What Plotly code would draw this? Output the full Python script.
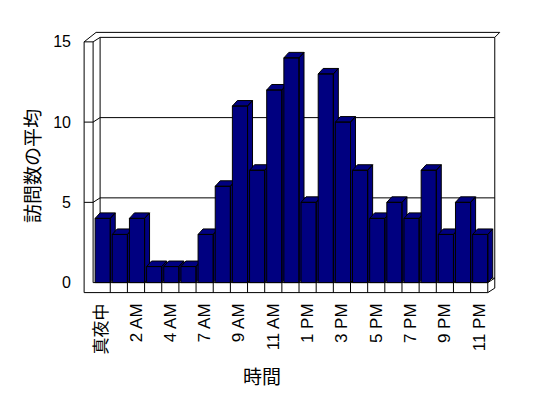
import plotly.graph_objects as go

# ---- data ----
hours = ["真夜中", "1 AM", "2 AM", "3 AM", "4 AM", "5 AM", "7 AM", "8 AM", "9 AM", "10 AM",
         "11 AM", "12 PM", "1 PM", "2 PM", "3 PM", "4 PM", "5 PM", "6 PM", "7 PM", "8 PM",
         "9 PM", "10 PM", "11 PM"]
avg_visits = [4, 3, 4, 1, 1, 1, 3, 6, 11, 7, 12, 14, 5, 13, 10, 7, 4, 5, 4, 7, 3, 5, 3]
y_ticks = [0, 5, 10, 15]
y_title = "訪問数の平均"
x_title = "時間"

# ---- 3D look geometry (data units) ----
N = len(hours)
YMAX = 15
DX, DY = 0.408, 0.28        # wall depth offset
BX, BY = 0.29, 0.31         # back wall thickness
WT = 0.524                  # left wall thickness
FT = 0.623                  # floor thickness
GAP = 0.117                 # gap before each bar
BDX, BDY = 0.29, 0.343      # bar depth

NAVY = "#000080"
FONT = "Liberation Sans, Arial, Noto Sans CJK JP, sans-serif"

fx, fy = [], []
def seg(pts):
    for p in pts:
        fx.append(p[0]); fy.append(p[1])
    fx.append(None); fy.append(None)

# left wall front face
seg([(-WT, -FT), (-WT, YMAX), (0, YMAX), (0, 0)])
# top edges
seg([(-WT, YMAX), (-WT + DX + BX, YMAX + DY + BY), (N + DX + BX, YMAX + DY + BY), (N + DX, YMAX + DY)])
seg([(0, YMAX), (DX, YMAX + DY), (N + DX, YMAX + DY), (N + DX, DY)])
# back wall left edge, floor back edge
seg([(DX, YMAX + DY), (DX, DY), (N + DX, DY)])
# floor front
seg([(0, 0), (N, 0)])
seg([(-WT, -FT), (N, -FT), (N, 0), (N + DX, DY)])
seg([(N, -FT), (N + DX, -FT + DY), (N + DX, DY)])
# floor ticks
for k in range(1, N):
    seg([(k, 0), (k, -FT)])
# gridlines
for v in y_ticks[1:-1]:
    seg([(-WT, v), (0, v), (DX, v + DY), (N + DX, v + DY)])

fig = go.Figure()
fig.add_trace(go.Scatter(x=fx, y=fy, mode="lines", line=dict(color="black", width=1),
                         hoverinfo="skip", showlegend=False))

for i, v in enumerate(avg_visits):
    xl, xr = i + GAP, i + 1
    bx, by = [], []
    faces = [
        [(xr, 0), (xr + BDX, BDY), (xr + BDX, v + BDY), (xr, v), (xr, 0)],
        [(xl, v), (xr, v), (xr + BDX, v + BDY), (xl + BDX, v + BDY), (xl, v)],
        [(xl, 0), (xr, 0), (xr, v), (xl, v), (xl, 0)],
    ]
    for f in faces:
        for p in f:
            bx.append(p[0]); by.append(p[1])
        bx.append(None); by.append(None)
    fig.add_trace(go.Scatter(x=bx, y=by, mode="lines", fill="toself", fillcolor=NAVY,
                             line=dict(color="black", width=1), hoverinfo="skip",
                             showlegend=False, name=hours[i]))

L, R, T, B = 80, 44, 28, 102
W, H = 548, 398
pxc = 17.16
pxv = 16.05
x0px, y0px = 93.1, 282.6

fig.update_layout(
    width=W, height=H,
    margin=dict(l=L, r=R, t=T, b=B, autoexpand=False),
    paper_bgcolor="white", plot_bgcolor="white",
    font=dict(family=FONT, size=16, color="black"),
    xaxis=dict(range=[(L - x0px) / pxc, (W - R - x0px) / pxc], automargin=False,
               showgrid=False, zeroline=False, showline=False, ticks="",
               tickmode="array",
               tickvals=[i + 0.5 for i in range(0, N, 2)],
               ticktext=hours[::2], tickangle=-90, ticklabelstandoff=3,
               tickfont=dict(family=FONT, size=17)),
    yaxis=dict(range=[(y0px - (H - B)) / pxv, (y0px - T) / pxv], automargin=False,
               showgrid=False, zeroline=False, showline=False, ticks="",
               tickmode="array", tickvals=y_ticks, ticktext=[str(t) for t in y_ticks],
               ticklabelstandoff=8, tickfont=dict(family=FONT, size=16)),
    annotations=[
        dict(text=x_title, xref="paper", yref="paper",
             x=(262 - L) / (W - L - R), y=1 - (377 - T) / (H - T - B),
             xanchor="center", yanchor="middle", showarrow=False,
             font=dict(family=FONT, size=19)),
        dict(text=y_title, xref="paper", yref="paper",
             x=(33 - L) / (W - L - R), y=1 - (166 - T) / (H - T - B),
             xanchor="center", yanchor="middle", showarrow=False, textangle=-90,
             font=dict(family=FONT, size=19)),
    ],
)

fig.write_html("out.html", config={"displayModeBar": False},
               post_script="document.body.style.margin='0';document.body.style.overflow='hidden';")
